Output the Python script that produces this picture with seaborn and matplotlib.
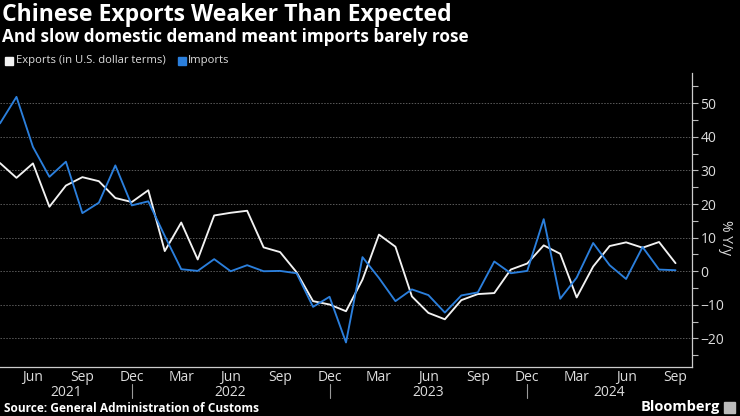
import numpy as np
import pandas as pd
import seaborn as sns
import matplotlib.pyplot as plt
import matplotlib.transforms as mtransforms
from matplotlib.ticker import MultipleLocator, FixedLocator
from matplotlib.patches import Rectangle

# monthly data, Apr 2021 .. Sep 2024 (% y/y)
months = pd.period_range('2021-04', '2024-09', freq='M')
exports = [32.2, 27.8, 32.1, 19.2, 25.5, 28.0, 26.8, 21.8, 20.6,
           24.1, 6.0, 14.5, 3.5, 16.6, 17.4, 18.0, 7.1, 5.7, -0.3, -8.9, -9.9,
           -11.9, -2.5, 10.9, 7.3, -7.5, -12.4, -14.3, -8.6, -6.8, -6.5, 0.5, 2.3,
           7.7, 5.2, -7.8, 1.4, 7.5, 8.6, 7.0, 8.7, 2.4]
imports = [44.0, 51.9, 37.0, 28.1, 32.6, 17.3, 20.4, 31.5, 19.6,
           20.8, 10.5, 0.6, 0.1, 3.6, 0.0, 1.8, 0.0, 0.1, -0.6, -10.6, -7.6,
           -21.2, 4.2, -2.0, -8.9, -5.4, -7.1, -12.3, -7.2, -6.3, 2.9, -0.6, 0.1,
           15.5, -8.2, -1.9, 8.4, 1.8, -2.3, 7.2, 0.5, 0.3]
series_names = ['Exports (in U.S. dollar terms)', 'Imports']
colors = {'Exports (in U.S. dollar terms)': '#f2f2f2', 'Imports': '#2b7fdc'}

df = pd.DataFrame({'idx': np.arange(len(months)),
                   series_names[0]: exports, series_names[1]: imports})
df_long = df.melt(id_vars='idx', var_name='Series', value_name='Value')

sns.set_style('dark', {'axes.facecolor': 'black', 'figure.facecolor': 'black'})
plt.rcParams['font.family'] = ['Open Sans', 'DejaVu Sans']

fig = plt.figure(figsize=(7.4, 4.16), dpi=100)
ax = fig.add_axes([0, 1 - 367 / 416, 692 / 740, 294 / 416])
ax.set_facecolor('black')

sns.lineplot(data=df_long, x='idx', y='Value', hue='Series', palette=colors,
             linewidth=1.35, legend=False, ax=ax)

ax.set_xlim(0, len(months))
ax.set_ylim(-28.5, 59)

# y axis on the right
ax.yaxis.tick_right()
ax.set_yticks([-20, -10, 0, 10, 20, 30, 40, 50])
ax.yaxis.set_minor_locator(MultipleLocator(5))
ax.tick_params(axis='y', which='both', direction='out', length=4, width=0.8,
               colors='#bbbbbb', labelcolor='#dddddd', labelsize=10, pad=2)
ax.grid(axis='y', color='#5a5a5a', linestyle=(0, (1.5, 1.5)), linewidth=0.7)
ax.grid(axis='x', visible=False)

# x axis month ticks
label_months = [i for i, m in enumerate(months) if m.month in (3, 6, 9, 12)]
ax.set_xticks(label_months)
ax.set_xticklabels([months[i].strftime('%b') for i in label_months])
ax.xaxis.set_minor_locator(FixedLocator(np.arange(len(months) + 1)))
ax.tick_params(axis='x', which='both', direction='in', length=3, width=0.8,
               colors='#bbbbbb', labelcolor='#dddddd', labelsize=10, pad=2)

for s in ['top', 'left']:
    ax.spines[s].set_visible(False)
for s in ['bottom', 'right']:
    ax.spines[s].set_visible(True)
    ax.spines[s].set_color('#cccccc')
    ax.spines[s].set_linewidth(0.9)
ax.set_xlabel('')
ax.set_ylabel('')

# year labels and separators
trans = mtransforms.blended_transform_factory(ax.transData, ax.transAxes)
dec_idx = [i for i, m in enumerate(months) if m.month == 12]
bounds = [0] + dec_idx + [len(months)]
years = ['2021', '2022', '2023', '2024']
for k, yr in enumerate(years):
    ax.text((bounds[k] + bounds[k + 1]) / 2, -0.086, yr, transform=trans,
            ha='center', va='center', color='#dddddd', fontsize=10)
for d in dec_idx:
    ax.plot([d, d], [-0.058, -0.105], transform=trans, color='#999999',
            linewidth=0.8, clip_on=False)

# titles
fig.text(2 / 740, 1 - 15 / 416, 'Chinese Exports Weaker Than Expected',
         color='white', fontsize=16.6, fontweight='bold', va='center', ha='left')
fig.text(2 / 740, 1 - 37 / 416, 'And slow domestic demand meant imports barely rose',
         color='white', fontsize=12.3, fontweight='bold', va='center', ha='left')

# legend
fig.patches.append(Rectangle((5 / 740, 1 - 65 / 416), 8 / 740, 8 / 416,
                             transform=fig.transFigure, color=colors[series_names[0]]))
fig.text(16 / 740, 1 - 61 / 416, series_names[0], color='#dddddd', fontsize=8.1,
         va='center', ha='left')
fig.patches.append(Rectangle((178 / 740, 1 - 65 / 416), 8 / 740, 8 / 416,
                             transform=fig.transFigure, color=colors[series_names[1]]))
fig.text(188 / 740, 1 - 61 / 416, series_names[1], color='#dddddd', fontsize=8.1,
         va='center', ha='left')

# y label
fig.text(726 / 740, 1 - 238 / 416, '% Y/y', color='#dddddd', fontsize=10,
         rotation=270, va='center', ha='center')

# footer
fig.text(4 / 740, 1 - 408 / 416, 'Source: General Administration of Customs',
         color='white', fontsize=8.6, fontweight='bold', va='center', ha='left')
fig.text(720 / 740, 1 - 407 / 416, 'Bloomberg', color='white', fontsize=10.5,
         fontweight='bold', va='center', ha='right')
fig.patches.append(Rectangle((724 / 740, 1 - 413 / 416), 11 / 740, 11 / 416,
                             transform=fig.transFigure, color='#bbbbbb'))

fig.savefig('out.png', dpi=100, facecolor='black')
